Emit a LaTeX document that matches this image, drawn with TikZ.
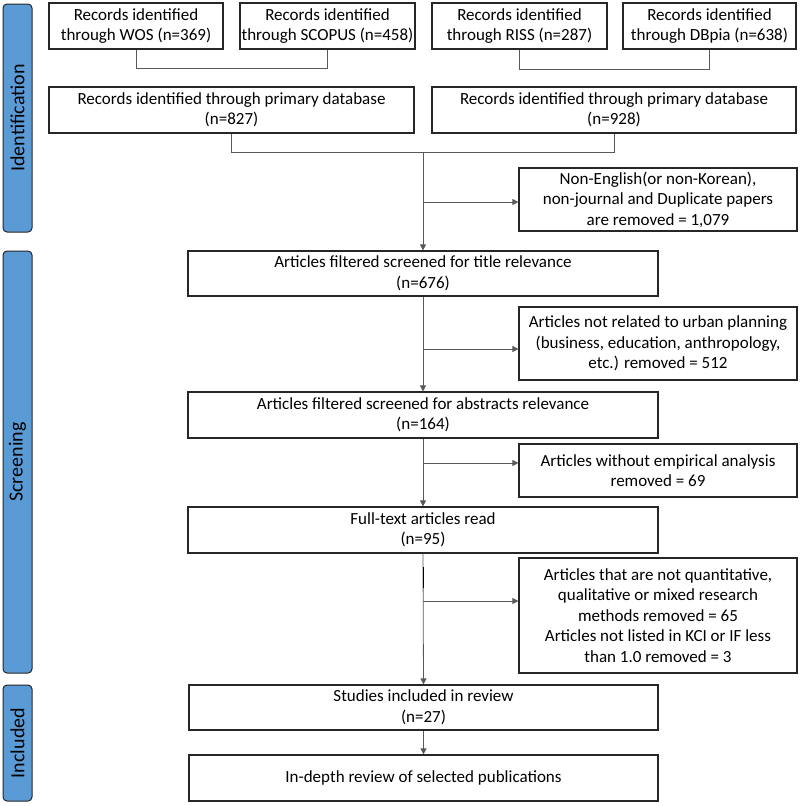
\documentclass[tikz,border=0pt]{standalone}
\usepackage{fontspec}
\setmainfont{Carlito}
\usetikzlibrary{arrows.meta}
\definecolor{phaseblue}{HTML}{5B9BD5}
\definecolor{boxline}{HTML}{262626}
\definecolor{connline}{HTML}{595959}
\begin{document}
\begin{tikzpicture}[x=1pt,y=-1pt,
  box/.style={draw=boxline, line width=1.2pt, fill=white, align=center, inner sep=0pt,
    font=\fontsize{17}{20.5}\selectfont},
  phase/.style={draw=boxline, line width=1pt, fill=phaseblue, rounded corners=4pt, rotate=90,
    minimum height=29pt, inner sep=0pt, font=\fontsize{20}{24}\selectfont},
  conn/.style={draw=connline, line width=0.8pt},
  arr/.style={conn, -{Triangle[length=6pt,width=6pt]}}
]
\useasboundingbox (0,0) rectangle (800,806);
% phase bars
\node[phase, minimum width=228pt] (ph1) at (17.5,118) {Identification};
\node[phase, minimum width=422pt] (ph2) at (17.5,462) {Screening};
\node[phase, minimum width=116pt] (ph3) at (17.5,743) {Included};
% top boxes
\node[box, minimum width=174pt, minimum height=46pt] (wos) at (136,26) {Records identified\\through WOS (n=369)};
\node[box, minimum width=175pt, minimum height=46pt] (scopus) at (327.5,26) {Records identified\\through SCOPUS (n=458)};
\node[box, minimum width=175pt, minimum height=46pt] (riss) at (519.5,26) {Records identified\\through RISS (n=287)};
\node[box, minimum width=173pt, minimum height=46pt] (dbpia) at (709.5,26) {Records identified\\through DBpia (n=638)};
% primary
\node[box, minimum width=365pt, minimum height=46pt] (p1) at (231.5,110) {Records identified through primary database\\(n=827)};
\node[box, minimum width=364pt, minimum height=46pt] (p2) at (614,110) {Records identified through primary database\\(n=928)};
% main column
\node[box, minimum width=470pt, minimum height=45pt] (title) at (423,273.5) {Articles filtered screened for title relevance\\(n=676)};
\node[box, minimum width=470pt, minimum height=46pt] (abs) at (423,415) {Articles filtered screened for abstracts relevance\\(n=164)};
\node[box, minimum width=470pt, minimum height=46pt] (full) at (423,530) {Full-text articles read\\(n=95)};
\node[box, minimum width=469pt, minimum height=45pt] (stud) at (423.5,707.5) {Studies included in review\\(n=27)};
\node[box, minimum width=469pt, minimum height=46pt] (indepth) at (423.5,778) {In-depth review of selected publications};
% exclusion boxes
\node[box, minimum width=278pt, minimum height=63pt] (ex1) at (658,199.5) {Non-English(or non-Korean),\\non-journal and Duplicate papers\\are removed = 1,079};
\node[box, minimum width=278pt, minimum height=73pt] (ex2) at (658,343.5) {Articles not related to urban planning\\(business, education, anthropology,\\etc.) removed = 512};
\node[box, minimum width=278pt, minimum height=53pt] (ex3) at (658,470.5) {Articles without empirical analysis\\removed = 69};
\node[box, minimum width=278pt, minimum height=115pt] (ex4) at (658,615.5) {Articles that are not quantitative,\\qualitative or mixed research\\methods removed = 65\\Articles not listed in KCI or IF less\\than 1.0 removed = 3};
% brackets
\draw[conn] (wos.south) -- ++(0,19) -| (scopus.south);
\draw[conn] (riss.south) -- ++(0,20) -| (dbpia.south);
\draw[conn] (p1.south) -- ++(0,19) -| (p2.south);
% main flow
\coordinate (j0) at (423,152);
\coordinate (j1) at (423,202);
\coordinate (j2) at (423,349);
\coordinate (j3) at (423,463);
\coordinate (j4) at (423,601);
\draw[arr] (j0) -- (title.north);
\draw[arr] (j1) -- (j1 -| ex1.west);
\draw[arr] (title.south) -- (abs.north);
\draw[arr] (j2) -- (j2 -| ex2.west);
\draw[arr] (abs.south) -- (full.north);
\draw[arr] (j3) -- (j3 -| ex3.west);
\draw[arr] (full.south) -- (stud.north);
\draw[arr] (j4) -- (j4 -| ex4.west);
\coordinate (k1) at (423.6,567);
\coordinate (k2) at (423.6,588);
\draw[line width=1.4pt, black] (k1) -- (k2);
\draw[arr] (stud.south) -- (indepth.north);
\end{tikzpicture}
\end{document}
